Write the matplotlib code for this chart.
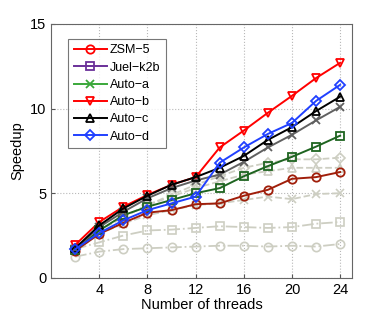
import matplotlib
matplotlib.use("Agg")
import matplotlib.pyplot as plt
from matplotlib.lines import Line2D

plt.rcParams['font.family'] = ['Liberation Sans', 'DejaVu Sans']

threads = [2, 4, 6, 8, 10, 12, 14, 16, 18, 20, 22, 24]

# baseline (light gray dashed) series
base_circle = [1.25, 1.55, 1.7, 1.75, 1.8, 1.85, 1.9, 1.9, 1.85, 1.9, 1.85, 2.0]
base_square = [1.7, 2.1, 2.5, 2.8, 2.85, 2.95, 3.05, 3.0, 2.95, 3.0, 3.2, 3.3]
base_x = [1.6, 2.6, 3.2, 3.7, 4.0, 4.3, 4.4, 4.6, 4.8, 4.65, 4.95, 5.0]
base_tri = [1.7, 2.8, 3.6, 4.3, 4.8, 5.3, 5.7, 6.1, 6.3, 6.5, 6.5, 6.5]
base_diam = [1.7, 2.8, 3.6, 4.3, 4.9, 5.5, 6.0, 6.5, 6.8, 7.0, 7.0, 7.1]

# main series
zsm5 = [1.6, 2.6, 3.25, 3.85, 4.0, 4.35, 4.4, 4.85, 5.2, 5.85, 5.95, 6.25]
juel = [1.65, 2.8, 3.7, 4.2, 4.6, 5.0, 5.3, 6.0, 6.6, 7.15, 7.75, 8.4]
auto_a = [1.7, 3.0, 3.9, 4.7, 5.3, 5.75, 6.1, 6.85, 7.7, 8.45, 9.3, 10.1]
auto_b = [1.95, 3.3, 4.2, 4.9, 5.5, 5.95, 7.7, 8.7, 9.75, 10.75, 11.8, 12.7]
auto_c = [1.75, 3.1, 4.1, 4.85, 5.5, 5.95, 6.5, 7.2, 8.15, 8.9, 9.85, 10.7]
auto_d = [1.7, 2.65, 3.4, 4.0, 4.4, 4.8, 6.8, 7.7, 8.5, 9.15, 10.45, 11.4]

labels = ["ZSM\u22125", "Juel\u2212k2b", "Auto\u2212a", "Auto\u2212b", "Auto\u2212c", "Auto\u2212d"]

fig = plt.figure(figsize=(3.9, 3.14), dpi=100)
ax = fig.add_axes([0.131, 0.115, 0.772, 0.809])

light = '#cdcec2'
lw = 1.4
ms = 6
for vals, m in [(base_circle, 'o'), (base_square, 's'), (base_x, 'x'),
                (base_tri, '^'), (base_diam, 'D')]:
    ax.plot(threads, vals, color=light, ls='-.' if m in 'os' else '--', lw=1.3,
            marker=m, ms=ms if m != 'D' else 5, mfc='none', mec=light, mew=1.2,
            zorder=2)

main = [
    (auto_b, 'v', '#ff0000'),
    (zsm5, 'o', '#a01e0a'),
    (juel, 's', '#1e6420'),
    (auto_a, 'x', '#606060'),
    (auto_c, '^', '#000000'),
    (auto_d, 'D', '#2040ff'),
]
for vals, m, c in main:
    ax.plot(threads, vals, color=c, lw=lw, marker=m,
            ms=ms if m != 'D' else 5, mfc='none', mec=c, mew=1.3, zorder=3)

ax.set_xlim(0, 25)
ax.set_ylim(0, 15)
ax.set_xticks([4, 8, 12, 16, 20, 24])
ax.set_yticks([0, 5, 10, 15])
ax.tick_params(direction='in', length=3, labelsize=10.5, color='#555555')
ax.grid(True, ls=':', color='#b8b8b8', lw=0.8)
for s in ax.spines.values():
    s.set_color('#666666')
ax.set_xlabel('Number of threads', fontsize=10.5, labelpad=1)
ax.set_ylabel('Speedup', fontsize=10.5, labelpad=4)

leg_styles = [('o', '#ff0000'), ('s', '#6a3099'), ('x', '#3aa83a'),
              ('v', '#ff0000'), ('^', '#000000'), ('D', '#2040ff')]
handles = [Line2D([], [], color=c, lw=lw, marker=m, ms=ms if m != 'D' else 5,
                  mfc='none', mec=c, mew=1.3) for m, c in leg_styles]
leg = ax.legend(handles, labels, loc='upper left', bbox_to_anchor=(0.056, 0.941),
                fontsize=9, frameon=True, fancybox=False, edgecolor='#555555',
                handlelength=2.7, labelspacing=0.42, borderpad=0.45,
                handletextpad=0.2, borderaxespad=0)
leg.get_frame().set_linewidth(0.8)

fig.savefig('out.png', dpi=100)
